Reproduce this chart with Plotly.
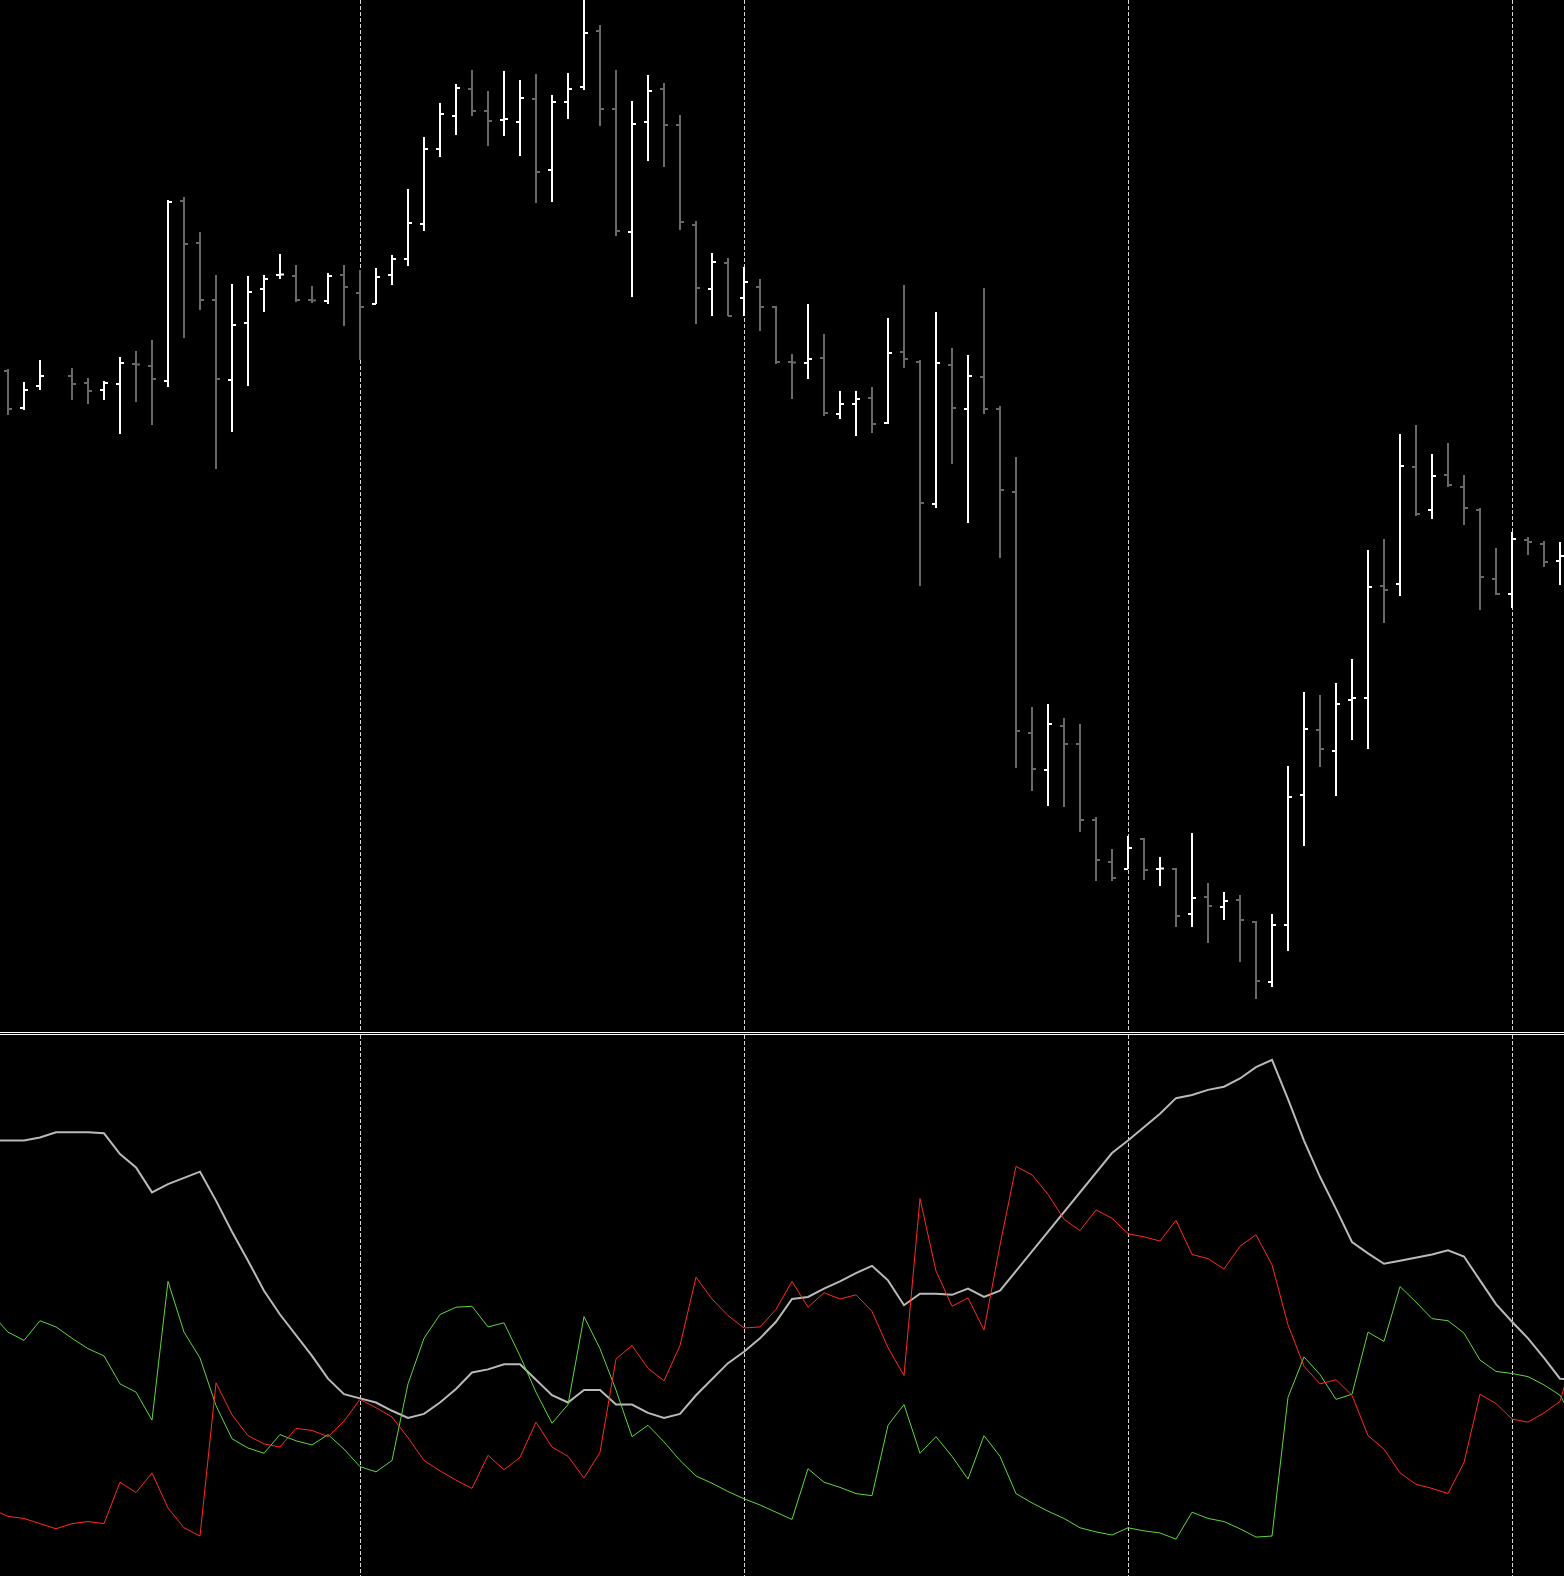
import plotly.graph_objects as go

# ---------------- price bars (index 0..97; index 3 has no visible bar) ----------------
bar_open = [1629, 1592, 1614, None, 1624, 1617, 1610, 1616, 1636, 1634,
            1619, 1799, 1757, 1700, 1620, 1677, 1711, 1725, 1724, 1700,
            1699, 1725, 1707, 1696, 1725, 1741, 1776, 1851, 1884, 1911,
            1889, 1880, 1878, 1901, 1830, 1898, 1913, 1969, 1891, 1768,
            1878, 1911, 1875, 1775, 1711, 1737, 1702, 1713, 1693, 1638,
            1637, 1642, 1586, 1596, 1602, 1577, 1648, 1638, 1496, 1635,
            1591, 1623, 1591, 1508, 1267, 1230, 1274, 1256, 1180, 1138,
            1131, 1161, 1131, 1131, 1086, 1103, 1093, 1100, 1078, 1018,
            1075, 1205, 1270, 1249, 1300, 1302, 1414, 1416, 1533, 1490,
            1525, 1513, 1490, 1421, 1406, 1460, 1456, 1439]
bar_high = [1631, 1618, 1640, None, 1632, 1622, 1619, 1643, 1649, 1660,
            1800, 1803, 1768, 1725, 1716, 1724, 1725, 1746, 1735, 1714,
            1727, 1735, 1730, 1732, 1745, 1811, 1863, 1897, 1916, 1930,
            1909, 1929, 1920, 1926, 1905, 1927, 2008, 1975, 1930, 1899,
            1925, 1917, 1885, 1779, 1747, 1742, 1733, 1721, 1694, 1646,
            1696, 1666, 1609, 1609, 1613, 1682, 1715, 1640, 1688, 1652,
            1645, 1712, 1594, 1543, 1293, 1296, 1282, 1276, 1183, 1151,
            1164, 1162, 1143, 1132, 1167, 1117, 1108, 1105, 1079, 1086,
            1234, 1308, 1305, 1317, 1341, 1450, 1461, 1566, 1575, 1546,
            1557, 1525, 1492, 1452, 1468, 1463, 1459, 1458]
bar_low = [1585, 1590, 1610, None, 1600, 1596, 1600, 1566, 1598, 1575,
           1613, 1662, 1690, 1531, 1568, 1614, 1688, 1721, 1698, 1697,
           1696, 1674, 1640, 1696, 1715, 1734, 1769, 1843, 1865, 1884,
           1854, 1864, 1844, 1797, 1798, 1881, 1910, 1874, 1764, 1703,
           1839, 1833, 1770, 1676, 1684, 1684, 1684, 1669, 1636, 1601,
           1621, 1584, 1581, 1564, 1567, 1576, 1632, 1414, 1492, 1536,
           1477, 1586, 1442, 1232, 1209, 1194, 1193, 1168, 1119, 1119,
           1131, 1120, 1114, 1073, 1073, 1057, 1080, 1038, 1001, 1013,
           1049, 1154, 1233, 1204, 1260, 1251, 1377, 1404, 1484, 1481,
           1513, 1475, 1390, 1405, 1392, 1445, 1433, 1415]
bar_close = [1591, 1610, 1624, None, 1616, 1609, 1617, 1637, 1635.6, 1621,
             1798, 1756, 1700, 1621, 1675, 1708, 1721, 1725.4, 1700, 1699.6,
             1724, 1713, 1693, 1723, 1741, 1777, 1851, 1886, 1912, 1889,
             1879, 1881, 1902, 1828, 1898, 1911, 1967, 1891, 1769, 1876,
             1909, 1875, 1778, 1712, 1738, 1684, 1718, 1693, 1638, 1637.6,
             1641, 1587, 1596, 1601, 1576, 1647, 1641, 1497, 1637, 1592,
             1624, 1591, 1510, 1269, 1231, 1276, 1256, 1180, 1140, 1122,
             1152, 1130, 1131.4, 1084, 1102, 1094, 1099, 1080, 1019, 1075,
             1203, 1271, 1251, 1296, 1302, 1413, 1410, 1534, 1486, 1524,
             1515, 1492, 1423, 1406, 1461, 1458, 1438, 1444]

# ---------------- indicator lines (index -1..98) ----------------
adx_main = [43.9, 43.9, 43.9, 44.2, 44.7, 44.7, 44.7, 44.6, 42.6, 41.3,
            38.9, 39.7, 40.3, 40.9, 38.1, 35.1, 32.3, 29.4, 27.1, 25.1,
            23.1, 20.9, 19.4, 19.0, 18.6, 17.8, 17.1, 17.5, 18.6, 19.9,
            21.5, 21.8, 22.3, 22.3, 20.8, 19.3, 18.6, 19.8, 19.8, 18.4,
            18.4, 17.6, 17.1, 17.5, 19.3, 20.9, 22.4, 23.5, 24.8, 26.4,
            28.6, 28.8, 29.6, 30.3, 31.1, 31.8, 30.4, 28.0, 29.1, 29.1,
            29.0, 29.6, 28.8, 29.4, 31.3, 33.2, 35.1, 37.0, 38.9, 40.8,
            42.7, 43.9, 45.2, 46.5, 48.0, 48.3, 48.8, 49.1, 49.9, 51.0,
            51.7, 47.9, 43.9, 40.4, 37.3, 34.1, 33.0, 32.0, 32.3, 32.6,
            32.9, 33.3, 32.7, 30.4, 28.1, 26.4, 24.8, 22.9, 20.9, 20.8]
minus_di = [8.3, 7.6, 7.4, 6.9, 6.4, 6.9, 7.1, 6.9, 10.9, 9.9,
            11.8, 8.4, 6.5, 5.7, 20.5, 17.4, 15.4, 14.6, 14.3, 16.1,
            15.9, 15.3, 16.8, 18.9, 18.1, 17.2, 15.2, 13.0, 12.0, 11.1,
            10.3, 13.5, 12.1, 13.3, 16.7, 14.3, 13.4, 11.3, 13.8, 22.8,
            24.1, 21.9, 20.7, 24.1, 30.7, 28.6, 27.0, 25.8, 25.9, 27.6,
            30.3, 27.8, 29.2, 28.6, 29.0, 27.4, 23.9, 21.2, 38.3, 31.3,
            27.9, 28.7, 25.6, 33.8, 41.4, 40.6, 38.7, 36.3, 35.2, 37.2,
            36.4, 34.9, 34.6, 34.2, 36.2, 32.9, 32.5, 31.5, 33.7, 34.8,
            31.9, 26.1, 22.1, 20.4, 20.8, 19.3, 15.4, 14.1, 11.8, 10.7,
            10.3, 9.8, 12.8, 19.4, 18.5, 17.0, 16.7, 17.6, 18.7, 24.0]
plus_di = [27.1, 25.4, 24.6, 26.5, 25.9, 24.8, 23.8, 23.1, 20.4, 19.6,
           16.9, 30.3, 25.4, 22.9, 18.3, 15.1, 14.2, 13.7, 15.5, 14.9,
           14.5, 15.5, 14.1, 12.4, 11.9, 13.0, 20.4, 24.8, 27.1, 27.8,
           27.9, 25.9, 26.3, 23.1, 19.6, 16.6, 18.4, 26.9, 23.8, 19.8,
           15.3, 16.4, 14.8, 13.0, 11.5, 10.8, 10.0, 9.3, 8.7, 8.0,
           7.3, 12.2, 10.9, 10.4, 9.8, 9.6, 16.4, 18.4, 13.7, 15.3,
           13.4, 11.2, 15.4, 13.4, 9.8, 8.9, 8.1, 7.4, 6.5, 6.1,
           5.8, 6.5, 6.2, 6.0, 5.4, 8.0, 7.4, 7.1, 6.4, 5.6,
           5.7, 19.1, 23.0, 21.3, 18.9, 19.4, 25.4, 24.5, 29.8, 28.3,
           26.7, 26.5, 25.3, 22.7, 21.6, 21.4, 21.1, 20.3, 19.3, 16.6]

grid_bars = [22, 46, 70, 94]

# ---------------- build ----------------
bar_idx = [i for i in range(len(bar_open)) if bar_open[i] is not None]
line_idx = list(range(-1, len(adx_main) - 1))

W, H = 1564, 1576
top_bottom_px = 1032
low_top_px = 1035

fig = go.Figure()

fig.add_trace(go.Ohlc(
    x=bar_idx,
    open=[bar_open[i] for i in bar_idx],
    high=[bar_high[i] for i in bar_idx],
    low=[bar_low[i] for i in bar_idx],
    close=[bar_close[i] for i in bar_idx],
    increasing=dict(line=dict(color="#ffffff", width=2)),
    decreasing=dict(line=dict(color="#696969", width=2)),
    tickwidth=0.25,
    xaxis="x", yaxis="y",
    showlegend=False, hoverinfo="skip",
))

fig.add_trace(go.Scatter(x=line_idx, y=adx_main, mode="lines",
                         line=dict(color="#b9b9b9", width=2),
                         xaxis="x2", yaxis="y2", showlegend=False, hoverinfo="skip"))
fig.add_trace(go.Scatter(x=line_idx, y=plus_di, mode="lines",
                         line=dict(color="#5fd63c", width=1),
                         xaxis="x2", yaxis="y2", showlegend=False, hoverinfo="skip"))
fig.add_trace(go.Scatter(x=line_idx, y=minus_di, mode="lines",
                         line=dict(color="#ff2b1f", width=1),
                         xaxis="x2", yaxis="y2", showlegend=False, hoverinfo="skip"))

xr = [-0.5, -0.5 + W / 16.0]
grid = dict(showgrid=True, gridcolor="#d8d8d8", gridwidth=1, griddash="4px,2px",
            tickmode="array", tickvals=grid_bars, showticklabels=False, ticks="",
            zeroline=False, range=xr, fixedrange=True)

fig.update_layout(
    width=W, height=H,
    margin=dict(l=0, r=0, t=0, b=0, pad=0),
    paper_bgcolor="#000000", plot_bgcolor="#000000",
    xaxis=dict(**grid, domain=[0, 1], anchor="y", rangeslider=dict(visible=False),
               showline=True, linecolor="#ffffff", linewidth=1, side="bottom"),
    yaxis=dict(domain=[1 - top_bottom_px / H, 1], range=[2000 - top_bottom_px, 2000],
               showgrid=False, zeroline=False, showticklabels=False, ticks="",
               fixedrange=True),
    xaxis2=dict(**grid, domain=[0, 1], anchor="y2",
                showline=True, linecolor="#ffffff", linewidth=1, side="top", mirror=False),
    yaxis2=dict(domain=[0, (H - low_top_px) / H], range=[1.84, 54.1],
                showgrid=False, zeroline=False, showticklabels=False, ticks="",
                fixedrange=True),
    showlegend=False,
)

fig.write_html("out.html", config={"displayModeBar": False},
               post_script="document.body.style.margin='0';document.body.style.overflow='hidden';")
